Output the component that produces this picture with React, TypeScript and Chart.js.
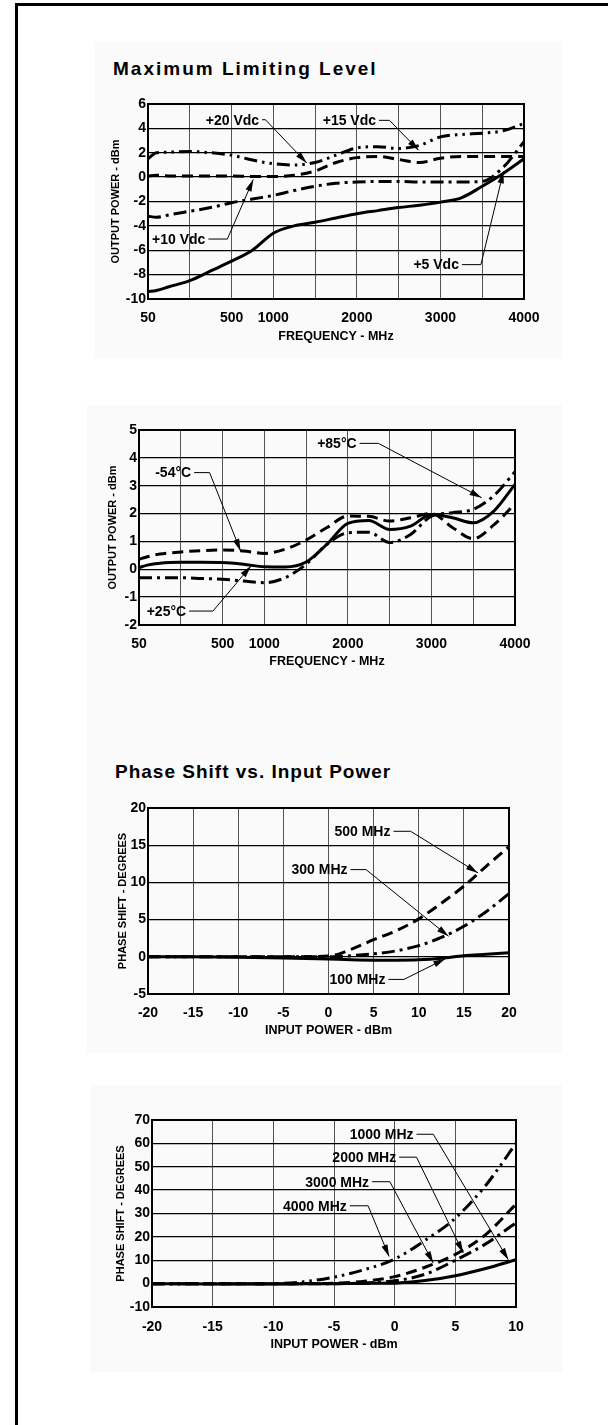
import React, { useEffect, useRef } from 'react';
import { Chart, registerables } from 'chart.js';

Chart.register(...registerables);

const PAGE_W = 608;
const PAGE_H = 1425;
const FONT = "'Liberation Sans', Arial, Helvetica, sans-serif";

// ---------- Chart 1: Maximum Limiting Level (frequency axis; "50" sits at -500) ----------
const freqTickPos = [-500, 500, 1000, 2000, 3000, 4000];
const freqTickLabels = ['50', '500', '1000', '2000', '3000', '4000'];
const freqPoints = [-500, -400, -250, 0, 250, 500, 750, 1000, 1250, 1500, 1750, 2000, 2250, 2500, 2750, 3000, 3250, 3500, 3750, 4000];
const vdc20 = [1.5, 2.0, 2.05, 2.1, 2.0, 1.8, 1.4, 1.1, 1.0, 1.2, 1.8, 2.4, 2.5, 2.35, 2.6, 3.3, 3.5, 3.6, 3.8, 4.4];
const vdc15 = [0.1, 0.15, 0.1, 0.1, 0.1, 0.1, 0.05, 0.05, 0.15, 0.5, 1.2, 1.6, 1.7, 1.45, 1.2, 1.55, 1.7, 1.7, 1.7, 1.7];
const vdc10 = [-3.2, -3.3, -3.1, -2.8, -2.5, -2.1, -1.8, -1.5, -1.1, -0.75, -0.5, -0.4, -0.35, -0.35, -0.4, -0.4, -0.4, -0.35, 0.8, 2.9];
const vdc5 = [-9.4, -9.3, -9.0, -8.5, -7.7, -6.9, -6.0, -4.6, -4.0, -3.7, -3.35, -3.0, -2.75, -2.5, -2.3, -2.05, -1.7, -0.75, 0.3, 1.5];

// ---------- Chart 2: temperature ----------
const tempM54 = [0.36, 0.45, 0.55, 0.62, 0.67, 0.69, 0.66, 0.57, 0.72, 1.05, 1.5, 1.91, 1.9, 1.73, 1.85, 2.0, 1.5, 1.1, 1.6, 2.35];
const tempP25 = [0.06, 0.15, 0.22, 0.25, 0.25, 0.24, 0.18, 0.09, 0.08, 0.26, 0.9, 1.65, 1.75, 1.43, 1.55, 1.97, 1.85, 1.67, 2.1, 3.05];
const tempP85 = [-0.3, -0.3, -0.3, -0.3, -0.33, -0.36, -0.42, -0.48, -0.3, 0.18, 0.9, 1.31, 1.33, 0.96, 1.25, 1.91, 2.03, 2.15, 2.65, 3.5];

// ---------- Chart 3: Phase shift vs input power (100-500 MHz) ----------
const pin3 = [-20, -15, -10, -5, 0, 2.5, 5, 7.5, 10, 12.5, 15, 17.5, 20];
const ph500 = [0, 0, 0, 0, 0.1, 1.0, 2.3, 3.5, 5.1, 7.2, 9.5, 12.2, 14.8];
const ph300 = [0, 0, 0, 0, 0, 0.15, 0.4, 0.8, 1.5, 2.6, 4.1, 6.1, 8.5];
const ph100 = [0, 0, -0.05, -0.15, -0.3, -0.4, -0.45, -0.45, -0.4, -0.2, 0.15, 0.35, 0.55];

// ---------- Chart 4: Phase shift vs input power (1000-4000 MHz) ----------
const pin4 = [-20, -15, -10, -7.5, -5, -2.5, 0, 2.5, 5, 7.5, 10];
const ph4000 = [0, 0, 0, 0.8, 2.8, 6, 10.5, 18.5, 28, 42, 60];
const ph3000 = [0, 0, 0, 0, 0.2, 1, 3, 7, 12.5, 21, 34];
const ph2000 = [0, 0, 0, 0, 0, 0.3, 1.2, 4, 10, 17, 26];
const ph1000 = [0, -0.2, -0.2, -0.1, 0, 0.1, 0.2, 1.3, 3.4, 6.5, 10.2];

const SOLID: number[] = [];
const DASH = [11, 6];
const DASHDOT = [13, 5, 3, 5];
const DASHDOTDOT = [13, 5, 2.5, 5, 2.5, 5];

type Note = { label: string; text: [number, number]; elbowX: number; tip: [number, number] };

type Spec = {
  box: { l: number; t: number; r: number; b: number; yTitleX: number; xTitleY: number; xTickPad: number };
  x: { min: number; max: number; step: number; labels?: { pos: number[]; text: string[] } };
  y: { min: number; max: number; step: number };
  xTitle: string;
  yTitle: string;
  series: { x: number[]; y: number[]; dash: number[]; name: string }[];
  notes: Note[];
};

const specs: Spec[] = [
  {
    box: { l: 148, t: 104, r: 524, b: 299, yTitleX: 116, xTitleY: 336.5, xTickPad: 11 },
    x: { min: -500, max: 4000, step: 500, labels: { pos: freqTickPos, text: freqTickLabels } },
    y: { min: -10, max: 6, step: 2 },
    xTitle: 'FREQUENCY - MHz',
    yTitle: 'OUTPUT POWER - dBm',
    series: [
      { name: '+20 Vdc', x: freqPoints, y: vdc20, dash: DASHDOTDOT },
      { name: '+15 Vdc', x: freqPoints, y: vdc15, dash: DASH },
      { name: '+10 Vdc', x: freqPoints, y: vdc10, dash: DASHDOT },
      { name: '+5 Vdc', x: freqPoints, y: vdc5, dash: SOLID },
    ],
    notes: [
      { label: '+20 Vdc', text: [865, 4.71], elbowX: 905, tip: [1400, 1.16] },
      { label: '+15 Vdc', text: [2265, 4.66], elbowX: 2390, tip: [2740, 2.2] },
      { label: '+10 Vdc', text: [223, -5.08], elbowX: 450, tip: [760, -0.2] },
      { label: '+5 Vdc', text: [3257, -7.18], elbowX: 3484, tip: [3755, 0.47] },
    ],
  },
  {
    box: { l: 139, t: 430, r: 515, b: 625, yTitleX: 113, xTitleY: 661.5, xTickPad: 11 },
    x: { min: -500, max: 4000, step: 500, labels: { pos: freqTickPos, text: freqTickLabels } },
    y: { min: -2, max: 5, step: 1 },
    xTitle: 'FREQUENCY - MHz',
    yTitle: 'OUTPUT POWER - dBm',
    series: [
      { name: '-54°C', x: freqPoints, y: tempM54, dash: DASH },
      { name: '+25°C', x: freqPoints, y: tempP25, dash: SOLID },
      { name: '+85°C', x: freqPoints, y: tempP85, dash: DASHDOT },
    ],
    notes: [
      { label: '-54°C', text: [160, 3.47], elbowX: 345, tip: [715, 0.66] },
      { label: '+85°C', text: [2140, 4.52], elbowX: 2365, tip: [3600, 2.57] },
      { label: '+25°C', text: [100, -1.5], elbowX: 385, tip: [840, 0.12] },
    ],
  },
  {
    box: { l: 148, t: 808, r: 509, b: 994, yTitleX: 123, xTitleY: 1031, xTickPad: 10.5 },
    x: { min: -20, max: 20, step: 5 },
    y: { min: -5, max: 20, step: 5 },
    xTitle: 'INPUT POWER - dBm',
    yTitle: 'PHASE SHIFT - DEGREES',
    series: [
      { name: '500 MHz', x: pin3, y: ph500, dash: DASH },
      { name: '300 MHz', x: pin3, y: ph300, dash: DASHDOT },
      { name: '100 MHz', x: pin3, y: ph100, dash: SOLID },
    ],
    notes: [
      { label: '500 MHz', text: [7.2, 16.87], elbowX: 9.1, tip: [16.56, 11.28] },
      { label: '300 MHz', text: [2.44, 11.72], elbowX: 4.16, tip: [13.3, 2.77] },
      { label: '100 MHz', text: [6.64, -3.04], elbowX: 8.36, tip: [12.94, -0.27] },
    ],
  },
  {
    box: { l: 152, t: 1120, r: 516, b: 1307, yTitleX: 121, xTitleY: 1345, xTickPad: 11.5 },
    x: { min: -20, max: 10, step: 5 },
    y: { min: -10, max: 70, step: 10 },
    xTitle: 'INPUT POWER - dBm',
    yTitle: 'PHASE SHIFT - DEGREES',
    series: [
      { name: '4000 MHz', x: pin4, y: ph4000, dash: DASHDOTDOT },
      { name: '3000 MHz', x: pin4, y: ph3000, dash: DASH },
      { name: '2000 MHz', x: pin4, y: ph2000, dash: DASHDOT },
      { name: '1000 MHz', x: pin4, y: ph1000, dash: SOLID },
    ],
    notes: [
      { label: '1000 MHz', text: [1.8, 63.9], elbowX: 3.18, tip: [9.37, 10.2] },
      { label: '2000 MHz', text: [0.37, 54.1], elbowX: 1.8, tip: [5.65, 13.1] },
      { label: '3000 MHz', text: [-1.86, 43.6], elbowX: -0.4, tip: [3.18, 8.8] },
      { label: '4000 MHz', text: [-3.7, 33.3], elbowX: -2.19, tip: [-0.46, 11.6] },
    ],
  },
];

const TICK_FONT = { family: FONT, size: 14, weight: 'bold' as const };
const YTITLE_SIZE = 11;
const XTITLE_SIZE = 12.5;

function buildChart(canvas: HTMLCanvasElement, spec: Spec) {
  const { box } = spec;
  const padLeft = box.yTitleX - 0.6 * YTITLE_SIZE;
  const yW = box.l - padLeft;
  const xH = box.xTitleY + 0.6 * XTITLE_SIZE - box.b;
  const padBottom = PAGE_H - box.b - xH;

  const framePlugin = {
    id: 'frameAndNotes' + Math.random().toString(36).slice(2),
    beforeDatasetsDraw(chart: any) {
      const { ctx, chartArea: a } = chart;
      ctx.save();
      ctx.strokeStyle = '#000';
      ctx.lineWidth = 2;
      ctx.strokeRect(a.left, a.top, a.right - a.left, a.bottom - a.top);
      ctx.restore();
    },
    afterDatasetsDraw(chart: any) {
      const { ctx } = chart;
      const xs = chart.scales.x;
      const ys = chart.scales.y;
      ctx.save();
      ctx.font = `bold 14px ${FONT}`;
      ctx.fillStyle = '#000';
      ctx.strokeStyle = '#000';
      ctx.lineWidth = 1;
      for (const n of spec.notes) {
        const tx = xs.getPixelForValue(n.text[0]);
        const ty = ys.getPixelForValue(n.text[1]);
        const ex = xs.getPixelForValue(n.elbowX);
        const px = xs.getPixelForValue(n.tip[0]);
        const py = ys.getPixelForValue(n.tip[1]);
        ctx.textAlign = 'right';
        ctx.textBaseline = 'middle';
        ctx.fillText(n.label, tx - 3, ty + 1);
        ctx.beginPath();
        ctx.moveTo(tx, ty);
        ctx.lineTo(ex, ty);
        ctx.lineTo(px, py);
        ctx.stroke();
        const dx = px - ex;
        const dy = py - ty;
        const len = Math.hypot(dx, dy) || 1;
        const ux = dx / len;
        const uy = dy / len;
        const L = 12;
        const W = 3.2;
        ctx.beginPath();
        ctx.moveTo(px, py);
        ctx.lineTo(px - L * ux - W * uy, py - L * uy + W * ux);
        ctx.lineTo(px - L * ux + W * uy, py - L * uy - W * ux);
        ctx.closePath();
        ctx.fill();
      }
      ctx.restore();
    },
  };

  const labels = spec.x.labels;

  return new Chart(canvas, {
    type: 'line',
    data: {
      datasets: spec.series.map((s) => ({
        label: s.name,
        data: s.x.map((x, i) => ({ x, y: s.y[i] })),
        borderColor: '#000',
        backgroundColor: '#000',
        borderWidth: 3,
        borderDash: s.dash,
        borderCapStyle: 'butt' as const,
        pointRadius: 0,
        fill: false,
        cubicInterpolationMode: 'monotone' as const,
      })),
    },
    options: {
      animation: false,
      responsive: false,
      events: [],
      layout: {
        autoPadding: false,
        padding: { left: padLeft, top: box.t, right: PAGE_W - box.r, bottom: padBottom },
      },
      plugins: { legend: { display: false }, tooltip: { enabled: false }, title: { display: false } },
      scales: {
        x: {
          type: 'linear',
          min: spec.x.min,
          max: spec.x.max,
          afterFit: (s: any) => {
            s.height = xH;
          },
          ticks: {
            stepSize: spec.x.step,
            autoSkip: false,
            maxRotation: 0,
            padding: box.xTickPad,
            color: '#000',
            font: TICK_FONT,
            callback: (v: any) => {
              if (!labels) return String(v);
              const i = labels.pos.indexOf(Number(v));
              return i >= 0 ? labels.text[i] : '';
            },
          },
          grid: { color: '#555', lineWidth: 1, drawTicks: false },
          border: { display: false },
          title: {
            display: true,
            text: spec.xTitle,
            color: '#000',
            font: { family: FONT, size: XTITLE_SIZE, weight: 'bold' },
            padding: 0,
          },
        },
        y: {
          type: 'linear',
          min: spec.y.min,
          max: spec.y.max,
          afterFit: (s: any) => {
            s.width = yW;
          },
          ticks: {
            stepSize: spec.y.step,
            autoSkip: false,
            padding: 2,
            color: '#000',
            font: TICK_FONT,
          },
          grid: { color: '#000', lineWidth: 1.3, drawTicks: false },
          border: { display: false },
          title: {
            display: true,
            text: spec.yTitle,
            color: '#000',
            font: { family: FONT, size: YTITLE_SIZE, weight: 'bold' },
            padding: 0,
          },
        },
      },
    } as any,
    plugins: [framePlugin],
  });
}

function ChartLayer({ spec }: { spec: Spec }) {
  const ref = useRef<HTMLCanvasElement | null>(null);
  useEffect(() => {
    if (!ref.current) return;
    const chart = buildChart(ref.current, spec);
    return () => chart.destroy();
  }, [spec]);
  return (
    <canvas
      ref={ref}
      width={PAGE_W}
      height={PAGE_H}
      style={{ position: 'absolute', left: 0, top: 0, width: PAGE_W, height: PAGE_H, display: 'block' }}
    />
  );
}

const panelStyle = (l: number, t: number, r: number, b: number): React.CSSProperties => ({
  position: 'absolute',
  left: l,
  top: t,
  width: r - l,
  height: b - t,
  background: '#fafafa',
});

const headerStyle = (l: number, t: number, spacing: number): React.CSSProperties => ({
  position: 'absolute',
  left: l,
  top: t,
  fontFamily: FONT,
  fontWeight: 'bold',
  fontSize: 19,
  lineHeight: '19px',
  letterSpacing: spacing,
  color: '#000',
  whiteSpace: 'nowrap',
});

export default function App() {
  return (
    <div
      style={{
        position: 'absolute',
        left: 0,
        top: 0,
        width: PAGE_W,
        height: PAGE_H,
        overflow: 'hidden',
        background: '#fff',
      }}
    >
      <div style={panelStyle(95, 42, 562, 358)} />
      <div style={panelStyle(87, 405, 562, 1053)} />
      <div style={panelStyle(90, 1085, 562, 1372)} />
      <div style={{ position: 'absolute', left: 15, top: 3, width: 3, height: PAGE_H - 3, background: '#000' }} />
      <div style={{ position: 'absolute', left: 15, top: 3, width: PAGE_W - 15, height: 3, background: '#000' }} />
      <div style={headerStyle(113, 59, 2)}>Maximum Limiting Level</div>
      <div style={headerStyle(115, 762, 1)}>Phase Shift vs. Input Power</div>
      {specs.map((s, i) => (
        <ChartLayer key={i} spec={s} />
      ))}
    </div>
  );
}
